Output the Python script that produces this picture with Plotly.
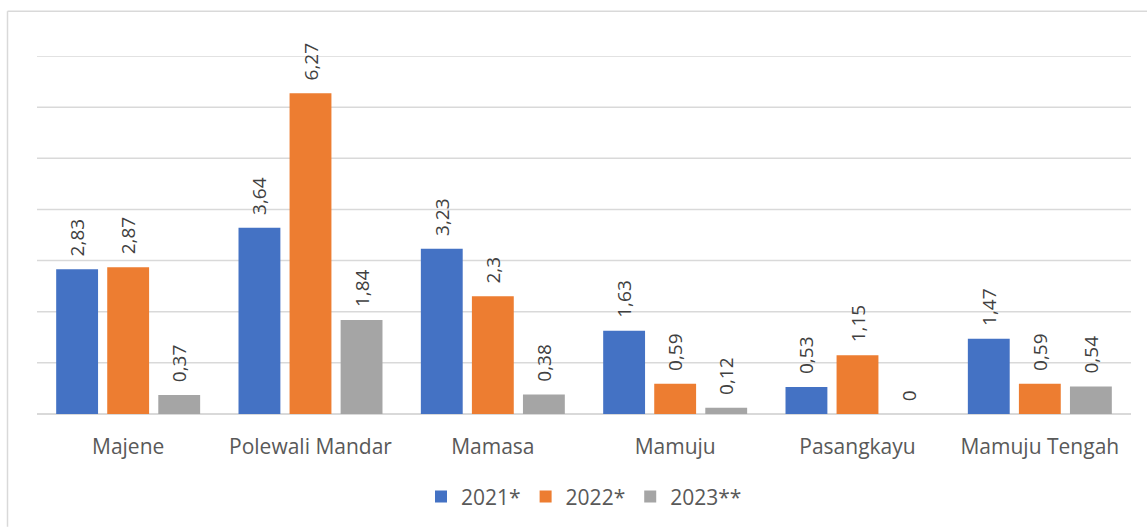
import plotly.graph_objects as go

regions = ["Majene", "Polewali Mandar", "Mamasa", "Mamuju", "Pasangkayu", "Mamuju Tengah"]
series_names = ["2021*", "2022*", "2023**"]
values_2021 = [2.83, 3.64, 3.23, 1.63, 0.53, 1.47]
values_2022 = [2.87, 6.27, 2.30, 0.59, 1.15, 0.59]
values_2023 = [0.37, 1.84, 0.38, 0.12, 0.00, 0.54]
colors = ["#4472C4", "#ED7D31", "#A5A5A5"]
grid_values = [1, 2, 3, 4, 5, 6, 7]


def fmt(v):
    # decimal comma, no trailing zeros
    return f"{v:g}".replace(".", ",")


fig = go.Figure()
for name, vals, col in zip(series_names, [values_2021, values_2022, values_2023], colors):
    fig.add_trace(go.Bar(
        name=name,
        x=regions,
        y=vals,
        marker=dict(color=col, line=dict(width=0)),
        text=["\u00a0\u00a0" + fmt(v) for v in vals],
        textposition="outside",
        textangle=-90,
        cliponaxis=False,
        constraintext="none",
        textfont=dict(family="Open Sans", size=19, color="#404040"),
        outsidetextfont=dict(family="Open Sans", size=19, color="#404040"),
    ))

grid_style = dict(color="#D9D9D9", width=1.5)
shapes = [
    dict(type="line", xref="paper", yref="y", x0=0, x1=1, y0=g, y1=g,
         line=grid_style, layer="below")
    for g in grid_values
]
shapes += [
    dict(type="line", xref="paper", yref="paper",
         x0=(7.5 - 37) / 1094, x1=(1147 - 37) / 1094,
         y0=1 + 45 / 359, y1=1 + 45 / 359, line=grid_style),
    dict(type="line", xref="paper", yref="paper",
         x0=(7.5 - 37) / 1094, x1=(7.5 - 37) / 1094,
         y0=1 + 45 / 359, y1=-113 / 359, line=grid_style),
]

fig.update_layout(
    width=1147,
    height=528,
    margin=dict(l=37, r=16, t=56, b=113),
    paper_bgcolor="white",
    plot_bgcolor="white",
    barmode="group",
    bargap=0.16,
    bargroupgap=0.18,
    font=dict(family="Open Sans", color="#595959"),
    showlegend=True,
    legend=dict(
        orientation="h",
        x=0.5, xanchor="center",
        y=-0.228, yanchor="middle",
        font=dict(size=21, color="#595959"),
        itemwidth=30,
        traceorder="normal",
    ),
    xaxis=dict(
        showgrid=False,
        showline=False,
        ticks="",
        ticklabelstandoff=18,
        tickfont=dict(size=21, color="#595959"),
    ),
    yaxis=dict(
        range=[0, 7],
        showticklabels=False,
        showgrid=False,
        zeroline=True,
        zerolinecolor="#D9D9D9",
        zerolinewidth=1.5,
    ),
    uniformtext=dict(mode=False),
    shapes=shapes,
)

fig.write_html("out.html")
